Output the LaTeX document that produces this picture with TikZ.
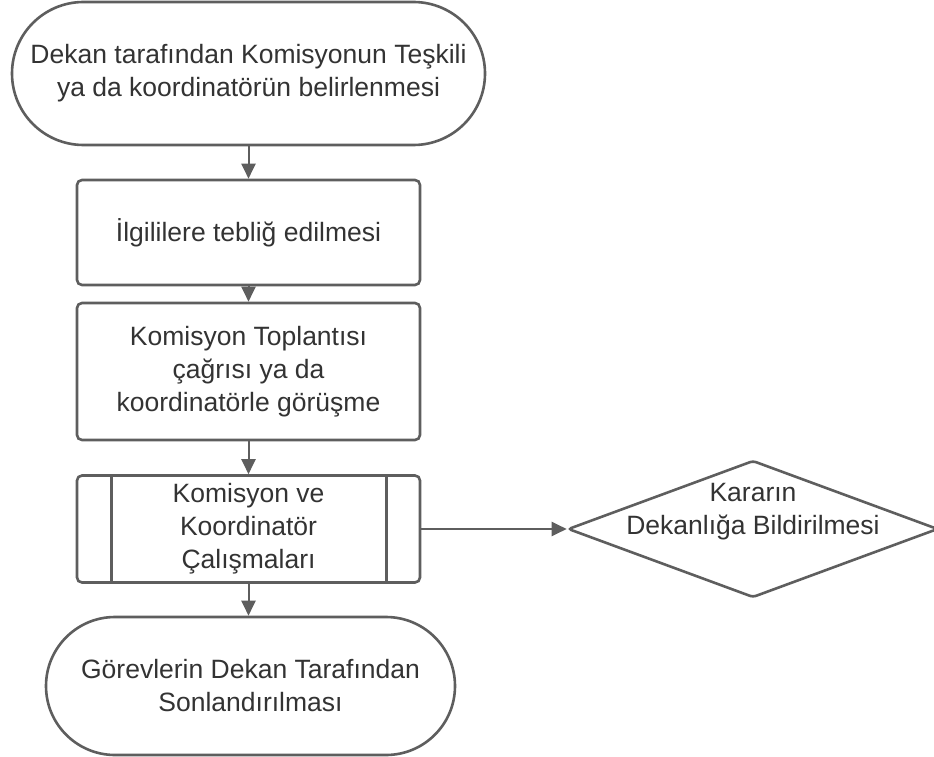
\documentclass[tikz,border=0pt]{standalone}
\usepackage{fontspec}
\setmainfont{Liberation Sans}
\usetikzlibrary{shapes.geometric,arrows.meta,calc}
\definecolor{ln}{HTML}{5E5E5E}
\definecolor{tx}{HTML}{333333}
\begin{document}
\begin{tikzpicture}[x=1pt,y=-1pt,
  every node/.style={font=\fontsize{26.5}{33}\selectfont, text=tx, align=center},
  shapebase/.style={draw=ln, line width=2.6pt, fill=white},
  term/.style={shapebase, rectangle},
  box/.style={shapebase, rectangle, rounded corners=5pt},
  dia/.style={shapebase, diamond, rounded corners=3pt, inner sep=0pt},
  conn/.style={draw=ln, line width=2pt, -{Triangle[length=15pt,width=14pt]}}]
\useasboundingbox (0,0) rectangle (934,757);
\node[term, minimum width=473pt, minimum height=143pt, rounded corners=71.5pt] (t1) at (248.5,73.5)
  {Dekan tarafından Komisyonun Teşkili\\ya da koordinatörün belirlenmesi};
\node[box, minimum width=343pt, minimum height=105pt] (r2) at (248.5,232.5) {İlgililere tebliğ edilmesi};
\node[box, minimum width=343pt, minimum height=137pt] (r3) at (248.5,371.5)
  {Komisyon Toplantısı\\çağrısı ya da\\koordinatörle görüşme};
\node[box, minimum width=343pt, minimum height=107pt] (p) at (248.5,529)
  {Komisyon ve\\Koordinatör\\Çalışmaları};
\draw[draw=ln, line width=2.6pt] ([xshift=36pt]p.north west) -- ([xshift=36pt]p.south west);
\draw[draw=ln, line width=2.6pt] ([xshift=-35pt]p.north east) -- ([xshift=-35pt]p.south east);
\node[dia, minimum width=370pt, minimum height=137pt] (d) at (753,529) {};
\node (dt) at (753,512) {Kararın\\Dekanlığa Bildirilmesi};
\node[term, minimum width=409pt, minimum height=138pt, rounded corners=69pt] (t2) at (250.5,686)
  {Görevlerin Dekan Tarafından\\Sonlandırılması};
\draw[conn] (t1.south) -- (r2.north);
\draw[conn] (r2.south) -- (r3.north);
\draw[conn] (r3.south) -- (p.north);
\draw[conn] (p.east) -- (d.west);
\draw[conn] (p.south) -- (p.south |- t2.north);
\end{tikzpicture}
\end{document}
